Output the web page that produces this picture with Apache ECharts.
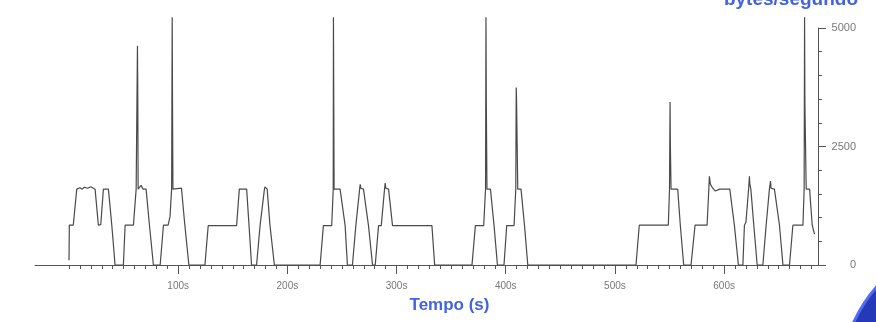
<!DOCTYPE html>
<html>
<head>
<meta charset="utf-8">
<script src="https://cdn.jsdelivr.net/npm/echarts/dist/echarts.min.js"></script>
<style>
  html, body { margin: 0; padding: 0; background: #fff; }
  #chart { width: 876px; height: 322px; }
</style>
</head>
<body>
<div id="chart"></div>
<script>
// tempo (s) e bytes/segundo, rajada por rajada
var tempo = [
  0, 0.3, 3.9, 7.1, 10, 12, 14, 17, 20, 23.9, 26.9, 29.1, 31.5, 36.1, 39.2, 42.2,
  49.8, 51.4, 59.0, 61.5, 62.2, 62.7, 63.0, 63.3, 66, 67.9, 70.6, 73.7, 77.3,
  83.5, 86.5, 90.8, 92.5, 94.0, 94.5, 94.8, 95.2, 103.0, 106.1, 109.8,
  124.5, 127.5, 153.5, 156.0, 162.7, 164.9, 167.2,
  171.8, 175.0, 179.0, 179.5, 181.5, 184.1, 188.1,
  230.0, 233.0, 240.6, 242.0, 242.2, 242.5, 242.8, 248.3, 252.9, 255.0,
  259.6, 262.7, 266.2, 266.7, 267.3, 269.7, 274.3, 278.0,
  280.5, 283.5, 286.0, 289.0, 289.6, 290.2, 292.7, 296.3, 332.4, 334.9,
  369.1, 372.2, 379.8, 381.5, 381.9, 382.2, 382.8, 386.0, 389.3, 392.4,
  398.4, 400.9, 407.6, 409.2, 409.6, 409.9, 411.0, 414.0, 417.2, 420.2,
  519.3, 522.3, 548.9, 550.0, 550.5, 550.8, 551.4, 557.5, 559.9, 563.0,
  569.7, 573.4, 584.4, 586.0, 586.5, 587.5, 589.6, 592.0, 593.6, 596.0, 605.2, 609.4, 613.1,
  617.2, 618.6, 620.0, 622.6, 623.2, 623.6, 624.5, 627.2, 630.3,
  635.5, 638.5, 641.5, 642.5, 643.0, 646.1, 650.7, 653.9,
  659.9, 663.0, 672.2, 673.3, 673.7, 674.0, 675.2, 678.3, 680.7, 682.8
];
var bytesSeg = [
  100, 840, 840, 1600, 1630, 1600, 1640, 1620, 1650, 1600, 840, 850, 1600, 1600, 840, 0,
  0, 840, 840, 1600, 1600, 4626, 3600, 1600, 1680, 1600, 1600, 840, 0,
  0, 840, 840, 1020, 1600, 5228, 3450, 1600, 1620, 840, 0,
  0, 830, 830, 1600, 1600, 830, 0,
  0, 830, 1600, 1650, 1600, 830, 0,
  0, 830, 830, 1600, 5228, 3430, 1600, 1600, 830, 0,
  0, 830, 1600, 1700, 1620, 1600, 830, 0,
  0, 830, 830, 1600, 1730, 1620, 1600, 830, 830, 0,
  0, 830, 830, 1600, 5228, 3460, 1600, 1600, 830, 0,
  0, 830, 830, 1600, 3744, 3500, 1600, 1600, 830, 0,
  0, 840, 840, 1600, 3440, 2500, 1600, 1600, 840, 0,
  0, 840, 840, 1600, 1870, 1700, 1620, 1560, 1580, 1600, 1600, 840, 0,
  0, 840, 900, 1650, 1870, 1700, 1600, 840, 0,
  0, 840, 1600, 1770, 1620, 1600, 840, 0,
  0, 840, 840, 1600, 5228, 3400, 1600, 1600, 840, 650
];
var xRotulos = [100, 200, 300, 400, 500, 600];
var yRotulos = [0, 2500, 5000];

var xMenores = [];
for (var t = 0; t <= 680; t += 10) xMenores.push(t);
var yMenores = [];
for (var b = 0; b <= 5000; b += 500) yMenores.push(b);

var pontos = tempo.map(function (t, i) { return [t, bytesSeg[i]]; });

var chart = echarts.init(document.getElementById('chart'));
var corEixo = '#555';
var fonte = 'Liberation Sans, Arial, sans-serif';
var option = {
  animation: false,
  backgroundColor: '#fff',
  title: {
    text: 'bytes/segundo',
    right: 18,
    top: -10,
    padding: 0,
    textStyle: { color: '#4462de', fontSize: 19, fontWeight: 'bold', fontFamily: fonte }
  },
  grid: [
    { left: 69, right: 58, top: 28, bottom: 57 },
    { left: 35, right: 58, top: 28, bottom: 57 }
  ],
  xAxis: [
    {
      gridIndex: 0, type: 'value', min: 0, max: 686, position: 'bottom',
      axisLine: { show: true, onZero: false, lineStyle: { color: corEixo } },
      axisTick: { show: true, length: 4, customValues: xMenores, lineStyle: { color: corEixo } },
      axisLabel: { show: false },
      splitLine: { show: false }
    },
    {
      gridIndex: 0, type: 'value', min: 0, max: 686, position: 'bottom',
      axisLine: { show: false, onZero: false },
      axisTick: { show: true, length: 9, customValues: xRotulos, lineStyle: { color: corEixo } },
      axisLabel: {
        customValues: xRotulos, margin: 16, color: '#777', fontSize: 10, fontFamily: fonte,
        formatter: function (v) { return v + 's'; }
      },
      splitLine: { show: false },
      name: 'Tempo (s)', nameLocation: 'middle', nameGap: 32,
      nameTextStyle: { color: '#4462de', fontSize: 17, fontWeight: 'bold', fontFamily: fonte, padding: [0, 0, 0, 12] }
    },
    {
      gridIndex: 1, type: 'value', min: 0, max: 1,
      axisLine: { show: true, onZero: false, lineStyle: { color: corEixo } },
      axisTick: { show: false }, axisLabel: { show: false }, splitLine: { show: false }
    }
  ],
  yAxis: [
    {
      gridIndex: 0, type: 'value', min: 0, max: 5000, position: 'right',
      axisLine: { show: true, onZero: false, lineStyle: { color: corEixo } },
      axisTick: { show: true, length: 4, customValues: yMenores, lineStyle: { color: corEixo } },
      axisLabel: { show: false },
      splitLine: { show: false }
    },
    {
      gridIndex: 0, type: 'value', min: 0, max: 5000, position: 'right',
      axisLine: { show: false, onZero: false },
      axisTick: { show: true, length: 8, customValues: yRotulos, lineStyle: { color: corEixo } },
      axisLabel: {
        customValues: yRotulos, align: 'right', margin: 38, color: '#777', fontSize: 11, fontFamily: fonte,
        formatter: function (v) { return String(v); }
      },
      splitLine: { show: false }
    },
    { gridIndex: 1, type: 'value', show: false }
  ],
  series: [{
    type: 'line',
    xAxisIndex: 0,
    yAxisIndex: 0,
    data: pontos,
    showSymbol: false,
    clip: false,
    lineStyle: { color: '#4a4a4a', width: 1.2 }
  }],
  graphic: [{
    type: 'circle',
    silent: true,
    z: -1,
    shape: { cx: 990, cy: 385, r: 150 },
    style: {
      fill: new echarts.graphic.LinearGradient(0, 0, 1, 1, [
        { offset: 0, color: '#2a40c8' },
        { offset: 1, color: '#0d1a6e' }
      ]),
      stroke: '#4f6cf2',
      lineWidth: 3
    }
  }]
};
chart.setOption(option);
</script>
</body>
</html>
